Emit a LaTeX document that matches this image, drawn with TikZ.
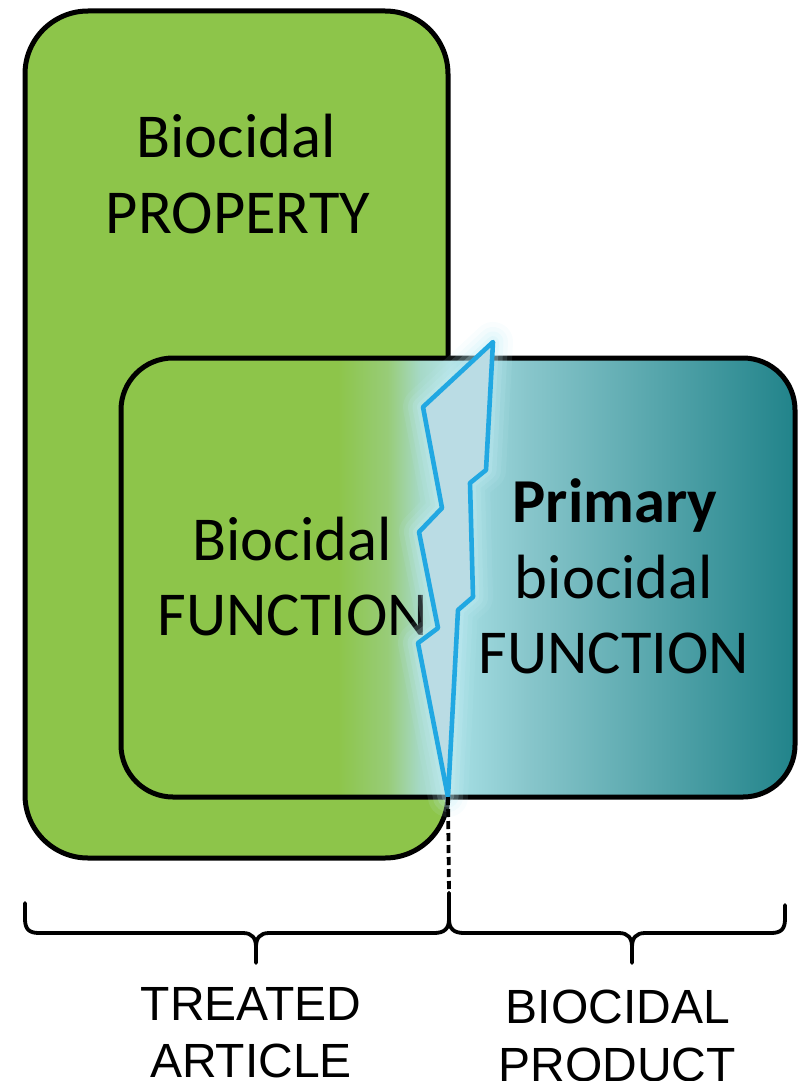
\documentclass[tikz,border=0pt]{standalone}
\usepackage{fontspec}
\setmainfont{Carlito}
\newfontfamily\labelfont{Liberation Sans}

\definecolor{boxgreen}{RGB}{141,197,74}
\definecolor{gB}{RGB}{152,204,120}
\definecolor{gC}{RGB}{166,217,200}
\definecolor{gD}{RGB}{178,226,228}
\definecolor{gE}{RGB}{162,220,225}
\definecolor{gF}{RGB}{136,198,203}
\definecolor{gG}{RGB}{33,131,138}
\definecolor{boltblue}{RGB}{33,168,226}
\definecolor{boltfill}{RGB}{186,220,228}
\definecolor{glowcol}{RGB}{196,238,246}

% green on the left, pale cyan at the split, deep teal on the right
\pgfdeclarehorizontalshading{innergrad}{100bp}{
  color(0bp)=(boxgreen); color(25bp)=(boxgreen); color(41.07bp)=(boxgreen);
  color(44.78bp)=(gB); color(47.22bp)=(gC); color(49.44bp)=(gD);
  color(50.33bp)=(gE); color(55.15bp)=(gF); color(75bp)=(gG); color(100bp)=(gG)}

\begin{document}
\begin{tikzpicture}[x=1pt,y=-1pt,
  outline/.style={draw=black,line width=5pt},
  boxtext/.style={font=\fontsize{62.5}{75}\selectfont, anchor=base, inner sep=0pt},
  boldtext/.style={boxtext, font=\fontsize{62.5}{75}\selectfont\bfseries},
  caption/.style={font=\labelfont\fontsize{48}{58}\selectfont, anchor=base, inner sep=0pt},
  bracepath/.style={draw=black, line width=3.8pt, line cap=round, line join=round},
  glow/.style={draw=glowcol, line join=round},
]
\useasboundingbox (0,0) rectangle (801,1081);
\clip (0,0) rectangle (801,1081);

% treated article box
\draw[outline, fill=boxgreen, rounded corners=63pt] (25,11) rectangle (448,858);
% overlapping function box
\shadedraw[outline, shading=innergrad, rounded corners=52pt] (121,358) rectangle (795,797);

% texts
\node[boxtext] (propA) at (236,157) {Biocidal};
\node[boxtext] (propB) at (238,233) {PROPERTY};
\node[boxtext] (funA) at (292,560) {Biocidal};
\node[boxtext] (funB) at (293,635) {FUNCTION};
\node[boldtext] (primA) at (615,522) {Primary};
\node[boxtext] (primB) at (614,598) {biocidal};
\node[boxtext] (primC) at (614,673) {FUNCTION};

% lightning split
\coordinate (b1) at (493,342);
\coordinate (b2) at (486,470);
\coordinate (b3) at (470,483);
\coordinate (b4) at (473,597);
\coordinate (b5) at (458,610);
\coordinate (b6) at (448,797);
\coordinate (b7) at (418,643);
\coordinate (b8) at (438,628);
\coordinate (b9) at (419,532);
\coordinate (b10) at (442,508);
\coordinate (b11) at (423,407);

\foreach \w/\o in {40/0.1, 30/0.14, 21/0.18, 12/0.24}
  \draw[glow, line width=\w pt, opacity=\o]
    (b1) -- (b2) -- (b3) -- (b4) -- (b5) -- (b6) -- (b7) -- (b8) -- (b9) -- (b10) -- (b11) -- cycle;
\draw[draw=boltblue, fill=boltfill, line width=4.6pt, line join=round]
  (b1) -- (b2) -- (b3) -- (b4) -- (b5) -- (b6) -- (b7) -- (b8) -- (b9) -- (b10) -- (b11) -- cycle;

% divider and braces
\coordinate (junction) at (449,893);
\coordinate (lbA) at (25,903);
\coordinate (lbTip) at (256,963);
\coordinate (rbB) at (785,905);
\coordinate (rbTip) at (632,963);

\draw[line width=3.8pt, dash pattern=on 8pt off 4pt] (b6) -- (junction);

\draw[bracepath] (lbA) -- (25,919) .. controls (25,929) and (29,933) .. (39,933)
  -- (243,933) .. controls (252,933) and (256,938) .. (256,947) -- (lbTip)
  (256,947) .. controls (256,938) and (260,933) .. (269,933)
  -- (434,933) .. controls (444,933) and (449,929) .. (449,919) -- (junction);
\draw[bracepath] (junction) -- (449,919) .. controls (449,929) and (454,933) .. (464,933)
  -- (619,933) .. controls (628,933) and (632,938) .. (632,947) -- (rbTip)
  (632,947) .. controls (632,938) and (636,933) .. (645,933)
  -- (771,933) .. controls (781,933) and (785,929) .. (785,919) -- (rbB);

% captions
\node[caption] (capA1) at (251,1020) {TREATED};
\node[caption] (capA2) at (251,1077) {ARTICLE};
\node[caption] (capB1) at (618,1023) {BIOCIDAL};
\node[caption] (capB2) at (617,1081) {PRODUCT};
\end{tikzpicture}
\end{document}
